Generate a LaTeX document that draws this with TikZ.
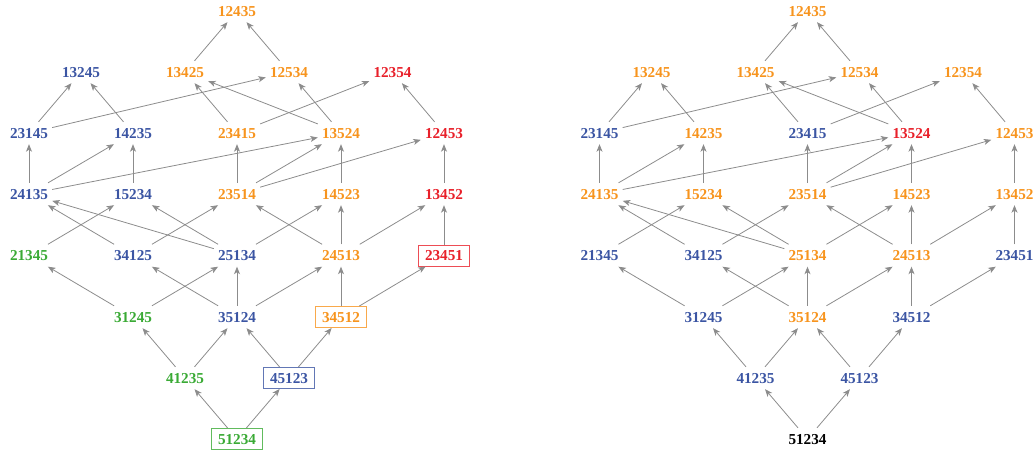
\documentclass[tikz,border=0pt]{standalone}
\usepackage{fontspec}
\setmainfont{Liberation Serif}
\usetikzlibrary{arrows.meta}
\definecolor{cOr}{HTML}{F7941E}
\definecolor{cBl}{HTML}{3B55A3}
\definecolor{cGn}{HTML}{3AAA35}
\definecolor{cRd}{HTML}{E8202A}
\definecolor{cEd}{HTML}{8C8C8C}
% a permutation label: name/text, x, y, extra style
\newcommand\pn[4]{\node[perm,#4] (#1) at (#2,#3) {#1};}
% covering relations of the order, lower -> upper
\def\coverlist{13425/12435, 12534/12435,
  23145/13245, 14235/13245, 23145/12534, 23415/13425, 13524/13425, 13524/12534, 23415/12354, 12453/12354,
  24135/23145, 24135/14235, 15234/14235, 23514/23415, 24135/13524, 23514/13524, 14523/13524, 23514/12453, 13452/12453,
  21345/15234, 34125/24135, 25134/24135, 25134/15234, 34125/23514, 25134/14523, 24513/23514, 24513/14523, 24513/13452, 23451/13452,
  31245/21345, 31245/25134, 35124/34125, 35124/25134, 35124/24513, 34512/24513, 34512/23451,
  41235/31245, 41235/35124, 45123/35124, 45123/34512,
  51234/41235, 51234/45123}
\begin{document}
\begin{tikzpicture}[x=1pt,y=-1pt,
  perm/.style={font=\fontsize{15.2}{18}\selectfont\bfseries, inner xsep=4pt, inner ysep=0pt,
    minimum height=22pt, text height=10.5pt, text depth=0pt},
  boxed/.style={draw=#1!80!white, line width=0.9pt, inner xsep=6.5pt, minimum height=21pt},
  cover/.style={draw=cEd, line width=0.8pt, -{Stealth[length=7.5pt,width=6pt,inset=2pt]}}]
\useasboundingbox (0,0) rectangle (1034,455);

% left lattice
\begin{scope}[name prefix=L-]
\pn{12435}{237}{11}{text=cOr}
\pn{13245}{81}{72}{text=cBl}
\pn{13425}{185}{72}{text=cOr}
\pn{12534}{289}{72}{text=cOr}
\pn{12354}{392.5}{72}{text=cRd}
\pn{23145}{29}{133}{text=cBl}
\pn{14235}{133}{133}{text=cBl}
\pn{23415}{237}{133}{text=cOr}
\pn{13524}{341}{133}{text=cOr}
\pn{12453}{444}{133}{text=cRd}
\pn{24135}{29}{194}{text=cBl}
\pn{15234}{133}{194}{text=cBl}
\pn{23514}{237}{194}{text=cOr}
\pn{14523}{341}{194}{text=cOr}
\pn{13452}{444}{194}{text=cRd}
\pn{21345}{29}{255.5}{text=cGn}
\pn{34125}{133}{255.5}{text=cBl}
\pn{25134}{237}{255.5}{text=cBl}
\pn{24513}{341}{255.5}{text=cOr}
\pn{23451}{444}{255.5}{text=cRd,boxed=cRd}
\pn{31245}{133}{317}{text=cGn}
\pn{35124}{237}{317}{text=cBl}
\pn{34512}{341}{317}{text=cOr,boxed=cOr}
\pn{41235}{185}{378}{text=cGn}
\pn{45123}{289}{378}{text=cBl,boxed=cBl}
\pn{51234}{237}{439}{text=cGn,boxed=cGn}
\foreach \a/\b in \coverlist { \draw[cover] (\a) -- (\b); }
\end{scope}

% right lattice
\begin{scope}[name prefix=R-, xshift=570.5pt]
\pn{12435}{237}{11}{text=cOr}
\pn{13245}{81}{72}{text=cOr}
\pn{13425}{185}{72}{text=cOr}
\pn{12534}{289}{72}{text=cOr}
\pn{12354}{392.5}{72}{text=cOr}
\pn{23145}{29}{133}{text=cBl}
\pn{14235}{133}{133}{text=cOr}
\pn{23415}{237}{133}{text=cBl}
\pn{13524}{341}{133}{text=cRd}
\pn{12453}{444}{133}{text=cOr}
\pn{24135}{29}{194}{text=cOr}
\pn{15234}{133}{194}{text=cOr}
\pn{23514}{237}{194}{text=cOr}
\pn{14523}{341}{194}{text=cOr}
\pn{13452}{444}{194}{text=cOr}
\pn{21345}{29}{255.5}{text=cBl}
\pn{34125}{133}{255.5}{text=cBl}
\pn{25134}{237}{255.5}{text=cOr}
\pn{24513}{341}{255.5}{text=cOr}
\pn{23451}{444}{255.5}{text=cBl}
\pn{31245}{133}{317}{text=cBl}
\pn{35124}{237}{317}{text=cOr}
\pn{34512}{341}{317}{text=cBl}
\pn{41235}{185}{378}{text=cBl}
\pn{45123}{289}{378}{text=cBl}
\pn{51234}{237}{439}{text=black}
\foreach \a/\b in \coverlist { \draw[cover] (\a) -- (\b); }
\end{scope}
\end{tikzpicture}
\end{document}
